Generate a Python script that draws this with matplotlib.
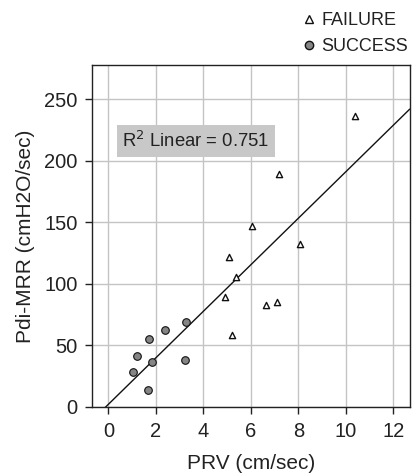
import numpy as np
import matplotlib
matplotlib.use("Agg")
import matplotlib.pyplot as plt
from matplotlib.lines import Line2D

plt.rcParams['font.family'] = ['Liberation Sans', 'DejaVu Sans']

# FAILURE group
fail_prv = [10.39, 7.18, 6.03, 8.06, 5.09, 5.38, 4.90, 6.62, 7.10, 5.19]
fail_pdi = [236.2, 189.0, 147.2, 132.3, 122.0, 105.3, 89.3, 82.8, 85.5, 58.4]

# SUCCESS group
succ_prv = [1.04, 1.20, 1.72, 1.85, 1.66, 2.37, 3.25, 3.24]
succ_pdi = [28.7, 41.6, 55.0, 36.8, 13.5, 62.5, 68.7, 38.4]

x_ticks = [0, 2, 4, 6, 8, 10, 12]
y_ticks = [0, 50, 100, 150, 200, 250]

all_x = np.array(fail_prv + succ_prv)
all_y = np.array(fail_pdi + succ_pdi)
slope, intercept = np.polyfit(all_x, all_y, 1)

fig = plt.figure(figsize=(4.12, 4.74), dpi=100)
ax = fig.add_axes([0.2233, 0.1414, 0.7707, 0.7206])

ax.set_xlim(-0.69, 12.68)
ax.set_ylim(0, 277.4)
ax.set_xticks(x_ticks)
ax.set_yticks(y_ticks)
ax.grid(True, color='#c4c4c4', linewidth=1.0)
ax.set_axisbelow(True)
for s in ax.spines.values():
    s.set_color('#222222')
    s.set_linewidth(1.0)
ax.tick_params(labelsize=14.5, length=5, width=1, pad=5.5,
               color='#222222', labelcolor='#222222')

# fit line
xl = np.array([-intercept / slope, 12.68])
ax.plot(xl, intercept + slope * xl, color='#111111', linewidth=1.0)

ax.scatter(fail_prv, fail_pdi, marker='^', s=20, facecolor='white',
           edgecolor='#111111', linewidth=1.0, zorder=3)
ax.scatter(succ_prv, succ_pdi, marker='o', s=30, facecolor='#858585',
           edgecolor='#111111', linewidth=0.8, zorder=3)

ax.text(3.69, 216, r'R$^2$ Linear = 0.751', fontsize=13.3, ha='center', va='center',
        color='#222222',
        bbox=dict(boxstyle='square,pad=0.3', facecolor='#c8c8c8', edgecolor='none'))

ax.set_xlabel('PRV (cm/sec)', fontsize=15, color='#222222', labelpad=10)
ax.set_ylabel('Pdi-MRR (cmH2O/sec)', fontsize=15, color='#222222', labelpad=6.5)

handles = [Line2D([], [], marker='^', linestyle='none', markersize=6,
                  markerfacecolor='white', markeredgecolor='#111111'),
           Line2D([], [], marker='o', linestyle='none', markersize=6,
                  markerfacecolor='#858585', markeredgecolor='#111111')]
leg = fig.legend(handles, ['FAILURE', 'SUCCESS'], loc='upper right',
                 bbox_to_anchor=(1.0, 0.982), frameon=False, fontsize=13,
                 handlelength=1.0, handletextpad=0.22, labelspacing=0.5,
                 borderpad=0.2, borderaxespad=0.0)
for t in leg.get_texts():
    t.set_color('#222222')

fig.savefig('out.png', dpi=100)
